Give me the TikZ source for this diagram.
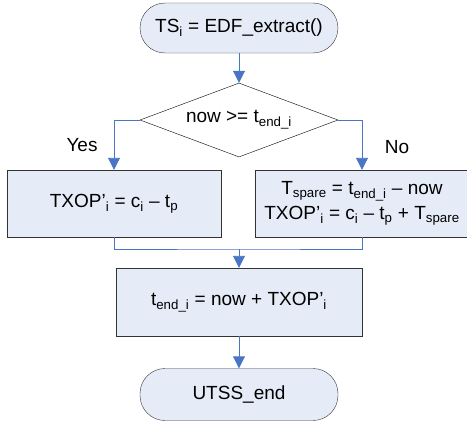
\documentclass[tikz,border=0pt]{standalone}
\usepackage{fontspec}
\setmainfont{Liberation Sans}
\usetikzlibrary{shapes.geometric,arrows.meta}
\definecolor{boxfill}{RGB}{230,236,247}
\definecolor{linkblue}{RGB}{72,118,196}

\begin{document}
\begin{tikzpicture}[x=1pt,y=-1pt]
\tikzstyle{every node}=[font=\fontsize{19}{25}\selectfont];
\tikzstyle{terminal}=[draw=black!80,fill=boxfill,rounded corners=25pt,minimum width=198pt,minimum height=50pt];
\tikzstyle{process}=[draw=black!80,fill=boxfill,minimum height=67pt,align=center];
\tikzstyle{decision}=[draw=black,diamond,aspect=2.7,minimum width=198pt,minimum height=74pt,inner sep=0pt];
\tikzstyle{link}=[draw=linkblue,line width=0.9pt,-{Triangle[width=12pt,length=12pt]}];
\useasboundingbox (0,0) rectangle (467,423);
\node[terminal] (extract) at (239,28) {TS\textsubscript{i} = EDF\_extract()};
\node[decision] (test) at (239,120) {now >= t\textsubscript{end\_i}};
\node[process,minimum width=214pt] (yesbox) at (114,203.5) {TXOP’\textsubscript{i} = c\textsubscript{i} – t\textsubscript{p}};
\node[process,minimum width=214pt] (nobox) at (362,203.5)
	{T\textsubscript{spare} = t\textsubscript{end\_i} – now\\
	 TXOP’\textsubscript{i} = c\textsubscript{i} – t\textsubscript{p} + T\textsubscript{spare}};
\node[process,minimum width=246pt,minimum height=68pt] (update) at (239,302) {t\textsubscript{end\_i} = now + TXOP’\textsubscript{i}};
\node[terminal,minimum height=52pt] (finish) at (239,394.5) {UTSS\_end};
\node (yes) at (82,145) {Yes};
\node (no) at (397,147) {No};
\coordinate (join) at (239,249);
\draw[link] (extract) -- (test);
\draw[link] (test.west) -| (yesbox);
\draw[link] (test.east) -| (nobox);
\draw[draw=linkblue,line width=0.9pt] (yesbox.south) |- (join) -| (nobox.south);
\draw[link] (join) -- (update);
\draw[link] (update) -- (finish);
\end{tikzpicture}
\end{document}
